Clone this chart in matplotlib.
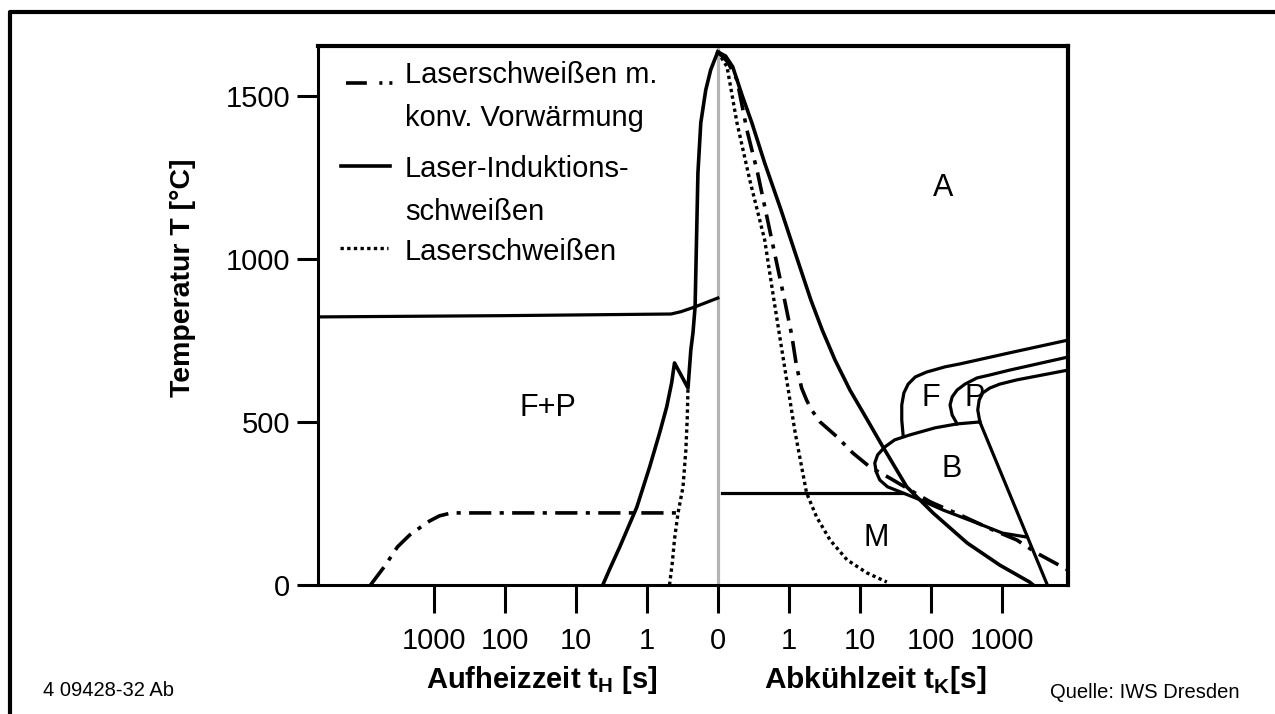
import numpy as np
import matplotlib.pyplot as plt
from matplotlib.lines import Line2D

plt.rcParams['font.family'] = ['Liberation Sans', 'DejaVu Sans']
plt.rcParams['mathtext.fontset'] = 'custom'
plt.rcParams['mathtext.rm'] = 'Liberation Sans'
plt.rcParams['mathtext.bf'] = 'Liberation Sans:bold'
plt.rcParams['lines.scale_dashes'] = False
plt.rcParams['lines.solid_joinstyle'] = 'round'

# x axis in decades away from the "0" line (left: heating time, right: cooling time)
x_ticks = [-4, -3, -2, -1, 0, 1, 2, 3, 4]
x_tick_labels = ['1000', '100', '10', '1', '0', '1', '10', '100', '1000']
y_ticks = [0, 500, 1000, 1500]

# Laser-Induktionsschweissen (solid)
li_heat_x = [-1.62, -1.52, -1.38, -1.14, -0.96, -0.82, -0.72, -0.65, -0.61, -0.42,
             -0.38, -0.35, -0.32, -0.30, -0.28, -0.24, -0.17, -0.10, -0.03, 0.0]
li_heat_T = [0, 50, 117, 239, 362, 466, 546, 620, 681, 604,
             721, 773, 853, 1058, 1264, 1417, 1518, 1580, 1619, 1635]
li_cool_x = [0.0, 0.11, 0.21, 0.34, 0.48, 0.66, 0.89, 1.09, 1.31, 1.47, 1.65,
             1.86, 2.09, 2.31, 2.66, 3.03, 3.51, 3.97, 4.39, 4.44]
li_cool_T = [1635, 1622, 1589, 1503, 1417, 1294, 1150, 1018, 874, 782, 690,
             598, 512, 429, 301, 221, 129, 61, 9, 0]

# Laserschweissen mit konventioneller Vorwaermung (dash-dot)
vw_heat_x = [-4.89, -4.69, -4.51, -4.34, -4.18, -4.06, -3.92, -3.75, -0.59]
vw_heat_T = [0, 58, 117, 153, 178, 196, 212, 221, 221]
vw_cool_x = [0.0, 0.14, 0.27, 0.41, 0.56, 0.76, 0.94, 1.04, 1.11, 1.18, 1.25,
             1.32, 1.44, 1.68, 1.90, 2.14, 2.42, 2.99, 3.41, 3.87, 4.21, 4.49, 4.93]
vw_cool_T = [1635, 1604, 1549, 1395, 1264, 1058, 874, 767, 669, 604, 567,
             537, 500, 454, 405, 362, 328, 255, 215, 169, 138, 98, 46]

# Laserschweissen (dotted)
ls_heat_x = [-0.68, -0.64, -0.61, -0.56, -0.49, -0.45, -0.43, -0.42]
ls_heat_T = [0, 70, 140, 221, 301, 414, 514, 604]
ls_cool_x = [0.0, 0.13, 0.27, 0.45, 0.66, 0.79, 0.94, 1.09, 1.25, 1.39, 1.58,
             1.82, 2.10, 2.38]
ls_cool_T = [1635, 1589, 1417, 1242, 1058, 874, 669, 466, 282, 209, 138,
             77, 37, 9]

# transformation lines
ac_x = [-5.7, -3.0, -0.66, -0.52, -0.32, 0.0]
ac_T = [822, 826, 831, 838, 853, 880]
ms_x = [0.06, 2.61]
ms_T = [282, 282]
b_x = [3.69, 3.37, 3.06, 2.70, 2.49, 2.35, 2.25, 2.21, 2.23, 2.28, 2.39, 2.61,
       2.85, 3.17, 3.65, 4.01, 4.35]
b_T = [500, 494, 482, 460, 445, 423, 399, 374, 347, 322, 301, 282,
       261, 230, 190, 159, 147]
p_end_x = [3.69, 4.64]
p_end_T = [500, 0]
f_x = [2.61, 2.59, 2.59, 2.62, 2.68, 2.78, 2.94, 3.20, 3.41, 4.11, 4.93]
f_T = [457, 506, 552, 589, 616, 638, 653, 669, 678, 712, 751]
p_x = [3.37, 3.30, 3.27, 3.30, 3.37, 3.48, 3.65, 3.83, 4.11, 4.93]
p_T = [494, 521, 552, 577, 598, 616, 635, 644, 659, 699]
pr_x = [3.69, 3.66, 3.68, 3.73, 3.83, 3.97, 4.21, 4.93]
pr_T = [500, 537, 567, 589, 604, 616, 629, 659]

# region labels
region_names = ['A', 'F+P', 'F', 'P', 'B', 'M']
region_x = [3.17, -2.39, 3.0, 3.61, 3.29, 2.23]
region_T = [1218, 543, 573, 573, 356, 144]

dashdot = (0, (16, 6, 3, 6))
dotted = (0, (2.4, 2.4))

fig = plt.figure(figsize=(12.75, 7.14), dpi=100)
ax = fig.add_axes([0.2494, 0.1807, 0.5882, 0.7549])

ax.axvline(0, color='#b4b4b4', lw=2.3, zorder=1)

lw = 2.6
ax.plot(li_heat_x, li_heat_T, color='black', lw=lw)
ax.plot(li_cool_x, li_cool_T, color='black', lw=lw)
ax.plot(vw_heat_x, vw_heat_T, color='black', lw=lw, linestyle=dashdot)
ax.plot(vw_cool_x, vw_cool_T, color='black', lw=lw, linestyle=dashdot)
ax.plot(ls_heat_x, ls_heat_T, color='black', lw=2.4, linestyle=dotted)
ax.plot(ls_cool_x, ls_cool_T, color='black', lw=2.4, linestyle=dotted)

lw2 = 2.3
for xs, ts in [(ac_x, ac_T), (ms_x, ms_T), (b_x, b_T), (p_end_x, p_end_T),
               (f_x, f_T), (p_x, p_T), (pr_x, pr_T)]:
    ax.plot(xs, ts, color='black', lw=lw2)

for name, x, t in zip(region_names, region_x, region_T):
    ax.text(x, t, name, fontsize=22, ha='center', va='center')

# legend drawn by hand so the line sample sits on the first text line
ax.plot([0.037, 0.105], [0.931, 0.931], transform=ax.transAxes, color='black',
        lw=lw, linestyle=(0, (15, 9, 2.2, 5, 2.2, 20)))
ax.plot([0.031, 0.096], [0.777, 0.777], transform=ax.transAxes, color='black', lw=lw)
ax.plot([0.029, 0.094], [0.625, 0.625], transform=ax.transAxes, color='black',
        lw=2.4, linestyle=dotted)
leg_lines = ['Laserschweißen m.', 'konv. Vorwärmung', 'Laser-Induktions-',
             'schweißen', 'Laserschweißen']
leg_y = [0.931, 0.851, 0.757, 0.677, 0.603]
for s, y in zip(leg_lines, leg_y):
    ax.text(0.116, y, s, transform=ax.transAxes, fontsize=21, va='baseline')

ax.set_xlim(-5.63, 4.93)
ax.set_ylim(0, 1653)
ax.set_xticks(x_ticks)
ax.set_xticklabels(x_tick_labels)
ax.set_yticks(y_ticks)
ax.tick_params(axis='x', direction='out', length=20, width=2.2, pad=10, labelsize=21)
ax.tick_params(axis='y', direction='out', length=15, width=2.2, pad=5, labelsize=21)
for side in ['left', 'bottom']:
    ax.spines[side].set_linewidth(2.2)
for side in ['top', 'right']:
    ax.spines[side].set_linewidth(3.0)

fig.text(183 / 1275, 1 - 278 / 714, 'Temperatur T [°C]', fontsize=20.5,
         fontweight='bold', rotation=90, ha='center', va='center')
fig.text(542 / 1275, 1 - 680 / 714, r'Aufheizzeit t$_{\mathbf{H}}$ [s]', fontsize=21,
         fontweight='bold', ha='center', va='center')
fig.text(875 / 1275, 1 - 680 / 714, r'Abkühlzeit t$_{\mathbf{K}}$[s]', fontsize=21.5,
         fontweight='bold', ha='center', va='center')
fig.text(43 / 1275, 1 - 691 / 714, '4 09428-32 Ab', fontsize=14.5, va='center')
fig.text(1050 / 1275, 1 - 692 / 714, 'Quelle: IWS Dresden', fontsize=14.5, va='center')

# outer frame (top and left edge of the slide)
fig.add_artist(Line2D([9.5 / 1275, 9.5 / 1275, 1.0], [0.0, 1 - 11.5 / 714, 1 - 11.5 / 714],
                      transform=fig.transFigure, color='black', lw=3))

fig.savefig('out.png', dpi=100)
